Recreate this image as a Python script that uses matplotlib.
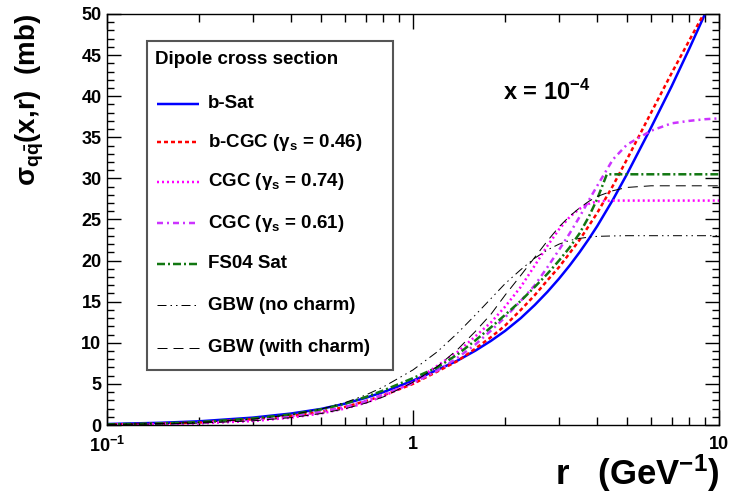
import numpy as np
import matplotlib
matplotlib.use("Agg")
import matplotlib.pyplot as plt
from matplotlib.patches import Rectangle
from matplotlib.lines import Line2D
from matplotlib.ticker import MultipleLocator, LogLocator, NullFormatter

matplotlib.rcParams.update({
    'font.family': 'Liberation Sans',
    'font.weight': 'bold',
    'axes.labelweight': 'bold',
    'font.size': 13,
    'mathtext.fontset': 'custom',
    'mathtext.rm': 'Liberation Sans:bold',
    'mathtext.bf': 'Liberation Sans:bold',
    'mathtext.it': 'Liberation Sans:bold',
    'mathtext.default': 'rm',
    'lines.scale_dashes': False,
})

# dipole size r (GeV^-1) and cross sections (mb) at x = 1e-4
r = [0.1, 0.15, 0.2, 0.3, 0.4, 0.5, 0.6, 0.7, 0.8, 1.0,
     1.2, 1.4, 1.6, 1.8, 2.0, 2.25, 2.5, 2.75, 3.0, 3.25, 3.5, 3.75, 4.0,
     4.5, 5.0, 6.0, 7.0, 8.0, 9.0, 10.0]
bsat = [0.12, 0.27, 0.45, 0.9, 1.4, 1.95, 2.6, 3.3, 4.0, 5.4,
        6.7, 7.85, 9.05, 10.25, 11.45, 13.0, 14.6, 16.2, 17.8, 19.4, 21.0, 22.6, 24.2,
        27.4, 30.5, 36.2, 41.2, 45.8, 50.0, 54.0]
bcgc = [0.05, 0.15, 0.3, 0.7, 1.1, 1.6, 2.2, 2.9, 3.6, 5.0,
        6.5, 7.8, 9.3, 10.7, 12.1, 14.0, 15.8, 17.6, 19.2, 20.9, 22.5, 24.2, 25.8,
        29.1, 32.3, 38.0, 42.8, 46.8, 50.3, 53.5]
cgc074 = [0.03, 0.09, 0.19, 0.48, 0.9, 1.4, 2.0, 2.7, 3.5, 5.2,
          7.2, 8.9, 10.8, 12.5, 14.4, 16.8, 19.4, 21.8, 23.8, 25.3, 26.3, 26.9, 27.2,
          27.3, 27.3, 27.3, 27.3, 27.3, 27.3, 27.3]
cgc061 = [0.05, 0.13, 0.27, 0.65, 1.1, 1.6, 2.2, 2.9, 3.7, 5.1,
          6.6, 8.2, 9.8, 11.5, 13.1, 15.1, 17.0, 19.2, 21.3, 23.3, 25.3, 27.3, 29.1,
          32.3, 34.1, 35.8, 36.7, 37.0, 37.2, 37.3]
gbw_nc = [0.08, 0.18, 0.32, 0.71, 1.25, 1.93, 2.73, 3.64, 4.63, 6.7,
          8.9, 11.2, 13.4, 15.4, 17.2, 18.9, 20.3, 21.3, 22.0, 22.45, 22.7, 22.85, 22.95,
          23.0, 23.03, 23.03, 23.03, 23.03, 23.03, 23.03]
gbw_c = [0.06, 0.13, 0.23, 0.51, 0.90, 1.39, 1.98, 2.66, 3.42, 5.2,
         7.1, 9.2, 11.4, 13.5, 15.8, 18.2, 20.4, 22.4, 24.1, 25.4, 26.4, 27.2, 27.8,
         28.5, 28.9, 29.1, 29.1, 29.1, 29.1, 29.1]

# FS04 saturates abruptly, so it gets its own grid
r_fs = [0.1, 0.15, 0.2, 0.3, 0.4, 0.5, 0.6, 0.7, 0.8, 1.0,
        1.2, 1.4, 1.6, 1.8, 2.0, 2.25, 2.5, 2.75, 3.0, 3.25, 3.5, 3.75, 4.0,
        4.3, 4.5, 5.0, 6.0, 7.0, 8.0, 9.0, 10.0]
fs04 = [0.08, 0.2, 0.35, 0.8, 1.3, 1.9, 2.6, 3.4, 4.2, 5.7,
        7.0, 8.6, 10.3, 11.9, 13.4, 15.1, 16.8, 18.4, 20.0, 21.6, 23.3, 25.3, 27.5,
        30.5, 30.5, 30.5, 30.5, 30.5, 30.5, 30.5, 30.5]

labels = ["b-Sat",
          r"b-CGC ($\gamma_{s}$ = 0.46)",
          r"CGC ($\gamma_{s}$ = 0.74)",
          r"CGC ($\gamma_{s}$ = 0.61)",
          "FS04 Sat",
          "GBW (no charm)",
          "GBW (with charm)"]

px = 1 / 100 * 72  # pixels -> points
curves = [
    (r, bsat, dict(color='#0000ff', lw=2.5 * px, ls='-')),
    (r, bcgc, dict(color='#ff0000', lw=2.5 * px, dashes=(4 * px, 3 * px))),
    (r, cgc074, dict(color='#ff00ff', lw=2.5 * px, dashes=(2 * px, 3 * px))),
    (r, cgc061, dict(color='#cc33ff', lw=2.5 * px, dashes=(6 * px, 4 * px, 2 * px, 4 * px))),
    (r_fs, fs04, dict(color='#117711', lw=2.5 * px, dashes=(8 * px, 3 * px, 2 * px, 3 * px))),
    (r, gbw_nc, dict(color='black', lw=1.0 * px, dashes=(9 * px, 4 * px, 1.5 * px, 4 * px, 1.5 * px, 4 * px))),
    (r, gbw_c, dict(color='black', lw=1.0 * px, dashes=(10 * px, 6 * px))),
]

W, H = 732, 496
fig = plt.figure(figsize=(W / 100, H / 100), dpi=100)
ax = fig.add_axes([107 / W, 71 / H, 612 / W, 411 / H])

for (xs, ys, style) in curves:
    ax.plot(xs, ys, solid_capstyle='butt', dash_capstyle='butt', **style)

ax.set_xscale('log')
ax.set_xlim(0.1, 10)
ax.set_ylim(0, 50)
ax.set_xticks([0.1, 1, 10])
ax.set_xticklabels([r"10$^{-1}$", "1", "10"])
ax.xaxis.set_minor_locator(LogLocator(base=10, subs=np.arange(2, 10)))
ax.xaxis.set_minor_formatter(NullFormatter())
ax.yaxis.set_major_locator(MultipleLocator(5))
ax.yaxis.set_minor_locator(MultipleLocator(1))
ax.tick_params(which='both', direction='in', top=True, right=True, labelsize=13, width=1)
ax.tick_params(axis='y', which='major', length=10, pad=4)
ax.tick_params(axis='y', which='minor', length=5)
ax.tick_params(axis='x', which='major', length=11, pad=8)
ax.tick_params(axis='x', which='minor', length=6)
for sp in ax.spines.values():
    sp.set_linewidth(1.0)

ax.set_ylabel(r"$\sigma_{q\bar{q}}$(x,r)  (mb)", fontsize=20, loc='top')
ax.yaxis.set_label_coords((46 - 107) / 612, 1.0)
ax.set_xlabel(r"r   (GeV$^{-1}$)", fontsize=25, loc='right')
ax.xaxis.set_label_coords(1.0, -(452 - 425) / 411)


def fx(x):
    return x / W


def fy(y):
    return 1 - y / H


fig.text(fx(503), fy(92), r"x = 10$^{-4}$", fontsize=17, va='center', ha='left')

# legend box
box = Rectangle((fx(147), fy(370)), (393 - 147) / W, (370 - 41) / H,
                transform=fig.transFigure, facecolor='white', edgecolor='#555555', lw=1.5)
fig.add_artist(box)
fig.text(fx(155), fy(60), "Dipole cross section", fontsize=13.5, va='center', ha='left')
rows = [104, 142, 182, 223, 264, 305, 348]
for (xs, ys, style), lab, yy in zip(curves, labels, rows):
    fig.add_artist(Line2D([fx(157), fx(199)], [fy(yy), fy(yy)], transform=fig.transFigure,
                          solid_capstyle='butt', dash_capstyle='butt', **style))
    fig.text(fx(208), fy(yy), lab, fontsize=13.5, va='center', ha='left')

fig.savefig("out.png", dpi=100)
